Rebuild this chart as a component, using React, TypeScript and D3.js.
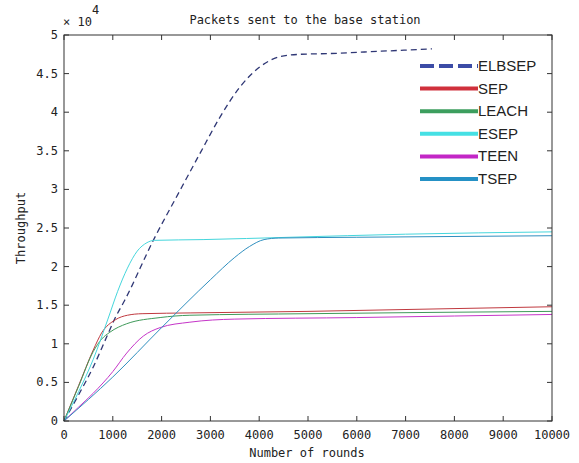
import * as d3 from "d3";
import React from "react";

const width = 579;
const height = 463;
const margin = { top: 35, right: 27, bottom: 42, left: 64 };

// rounds / throughput (x 10^4)
const elbsepX = [0, 300, 600, 875, 1045, 1250, 1830, 2380, 2790, 3200, 3610, 4020, 4430, 4840, 5450, 6500, 7540];
const elbsepY = [0, 0.34, 0.7, 1.09, 1.33, 1.57, 2.34, 2.99, 3.47, 3.94, 4.33, 4.59, 4.72, 4.75, 4.76, 4.79, 4.82];
const sepX = [0, 300, 600, 770, 1050, 1300, 1600, 2600, 5000, 7500, 10000];
const sepY = [0, 0.46, 0.92, 1.14, 1.31, 1.37, 1.39, 1.4, 1.42, 1.45, 1.48];
const leachX = [0, 300, 600, 770, 940, 1285, 1970, 2580, 5000, 10000];
const leachY = [0, 0.45, 0.9, 1.06, 1.15, 1.26, 1.34, 1.37, 1.39, 1.42];
const esepX = [0, 300, 600, 900, 1100, 1300, 1500, 1700, 1850, 2850, 4630, 7000, 10000];
const esepY = [0, 0.38, 0.8, 1.32, 1.68, 1.98, 2.2, 2.31, 2.34, 2.35, 2.38, 2.42, 2.45];
const teenX = [0, 300, 600, 1000, 1285, 1625, 1970, 2580, 3500, 6000, 8000, 10000];
const teenY = [0, 0.18, 0.36, 0.64, 0.88, 1.1, 1.21, 1.28, 1.32, 1.34, 1.36, 1.38];
const tsepX = [0, 1000, 2000, 3000, 3500, 3800, 4100, 4400, 6000, 10000];
const tsepY = [0, 0.57, 1.21, 1.83, 2.12, 2.26, 2.35, 2.37, 2.38, 2.4];

const xTicks = [0, 1000, 2000, 3000, 4000, 5000, 6000, 7000, 8000, 9000, 10000];
const yTicks = [0, 0.5, 1, 1.5, 2, 2.5, 3, 3.5, 4, 4.5, 5];

const series = [
  { name: "ELBSEP", xs: elbsepX, ys: elbsepY, color: "#2f3775", legend: "#3c4ca6", dash: true },
  { name: "SEP", xs: sepX, ys: sepY, color: "#c0393f", legend: "#d0303c", dash: false },
  { name: "LEACH", xs: leachX, ys: leachY, color: "#3f9a5a", legend: "#3c9e5e", dash: false },
  { name: "ESEP", xs: esepX, ys: esepY, color: "#45d6dc", legend: "#45e0e4", dash: false },
  { name: "TEEN", xs: teenX, ys: teenY, color: "#c535c8", legend: "#c327c6", dash: false },
  { name: "TSEP", xs: tsepX, ys: tsepY, color: "#2f8fbf", legend: "#2591c5", dash: false },
];

const axisFont = "'DejaVu Sans Mono', monospace";

export default function App() {
  const x = d3.scaleLinear().domain([0, 10000]).range([margin.left, width - margin.right]);
  const y = d3.scaleLinear().domain([0, 5]).range([height - margin.bottom, margin.top]);
  const line = d3.line<[number, number]>()
    .x(d => x(d[0]))
    .y(d => y(d[1]))
    .curve(d3.curveMonotoneX);

  const x0 = margin.left, x1 = width - margin.right;
  const y0 = height - margin.bottom, y1 = margin.top;
  const tk = 5;

  return (
    <svg width={width} height={height} style={{ position: "absolute", left: 0, top: 0, background: "#fff" }}>
      {series.map(s => (
        <path key={s.name}
          d={line(s.xs.map((v, i) => [v, s.ys[i]] as [number, number])) || ""}
          fill="none" stroke={s.color} strokeWidth={s.dash ? 1.3 : 1}
          strokeDasharray={s.dash ? "6,4" : undefined} />
      ))}

      {/* box and ticks */}
      <rect x={x0} y={y1} width={x1 - x0} height={y0 - y1} fill="none" stroke="#333" strokeWidth={1} />
      {xTicks.map(t => (
        <g key={"x" + t}>
          <line x1={x(t)} x2={x(t)} y1={y0} y2={y0 - tk} stroke="#333" />
          <line x1={x(t)} x2={x(t)} y1={y1} y2={y1 + tk} stroke="#333" />
          <text x={x(t)} y={y0 + 18} textAnchor="middle" fontFamily={axisFont} fontSize={12} fill="#222">{t}</text>
        </g>
      ))}
      {yTicks.map(t => (
        <g key={"y" + t}>
          <line x1={x0} x2={x0 + tk} y1={y(t)} y2={y(t)} stroke="#333" />
          <line x1={x1} x2={x1 - tk} y1={y(t)} y2={y(t)} stroke="#333" />
          <text x={x0 - 6} y={y(t) + 4} textAnchor="end" fontFamily={axisFont} fontSize={12} fill="#222">{t}</text>
        </g>
      ))}

      <text x={63} y={26} fontFamily={axisFont} fontSize={12} fill="#222">× 10</text>
      <text x={92} y={14} fontFamily={axisFont} fontSize={12} fill="#222">4</text>
      <text x={305} y={24} textAnchor="middle" fontFamily={axisFont} fontSize={12} fill="#222">Packets sent to the base station</text>
      <text x={307} y={457} textAnchor="middle" fontFamily={axisFont} fontSize={12} fill="#222">Number of rounds</text>
      <text transform={`translate(25,${(y0 + y1) / 2}) rotate(-90)`} textAnchor="middle" fontFamily={axisFont} fontSize={12} fill="#222">Throughput</text>

      {/* legend */}
      <g>
        <rect x={414} y={52} width={110} height={138} fill="#fff" />
        {series.map((s, i) => (
          <g key={"l" + s.name}>
            <line x1={420} x2={478} y1={66 + i * 22.6} y2={66 + i * 22.6}
              stroke={s.legend} strokeWidth={4}
              strokeDasharray={s.dash ? "14,5" : undefined} />
            <text x={478} y={66 + i * 22.6 + 5} fontFamily="'Liberation Sans', Arial, sans-serif" fontSize={15} fill="#222">{s.name}</text>
          </g>
        ))}
      </g>
    </svg>
  );
}
